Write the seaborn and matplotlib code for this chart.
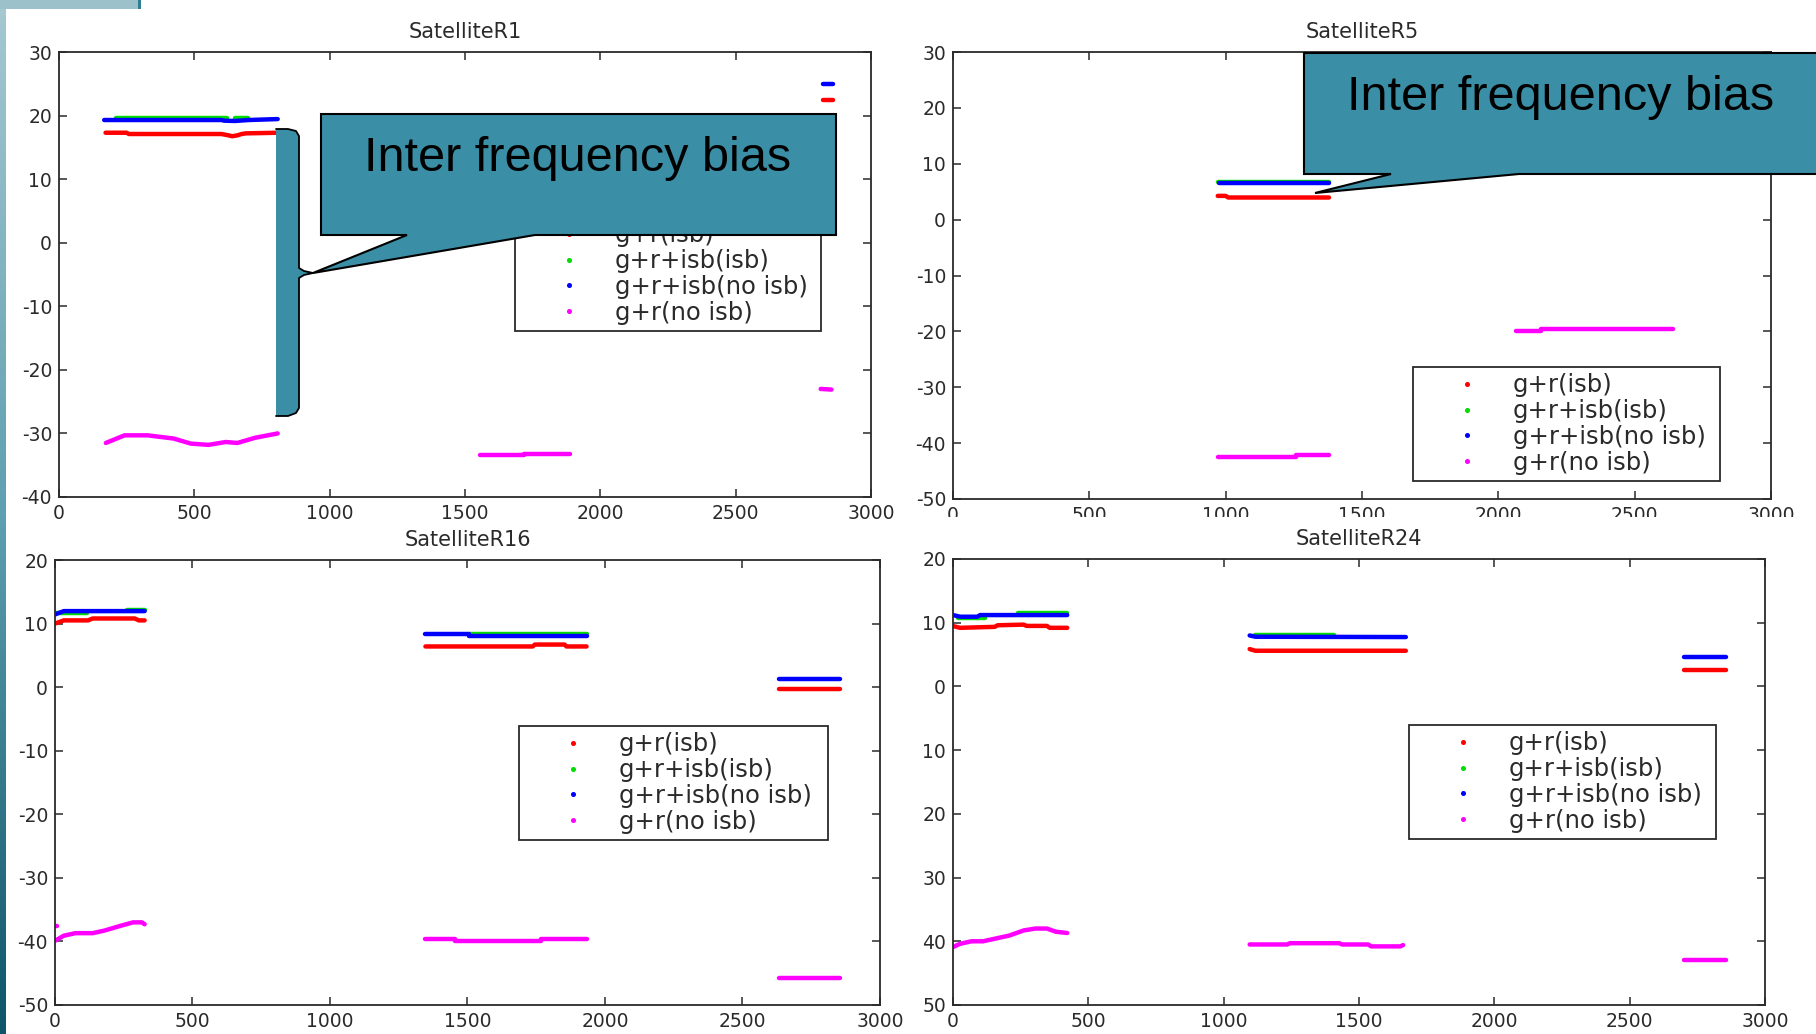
import numpy as np
import pandas as pd
import matplotlib
matplotlib.use("Agg")
import matplotlib.pyplot as plt
import seaborn as sns
from matplotlib.patches import Polygon, Rectangle
from matplotlib.lines import Line2D
from matplotlib.colors import LinearSegmentedColormap

nan = np.nan

# ---------------- data ----------------
SERIES = ["g+r(isb)", "g+r+isb(isb)", "g+r+isb(no isb)", "g+r(no isb)"]
COLORS = ["#ff0000", "#00dd00", "#0000ff", "#ff00ff"]
TITLES = ["SatelliteR1", "SatelliteR5", "SatelliteR16", "SatelliteR24"]
X_TICKS = [0, 500, 1000, 1500, 2000, 2500, 3000]
Y_TICKS_R1 = [-40, -30, -20, -10, 0, 10, 20, 30]
Y_TICKS_R5 = [-50, -40, -30, -20, -10, 0, 10, 20, 30]
Y_TICKS_R16 = [-50, -40, -30, -20, -10, 0, 10, 20]
Y_TICKS_R24 = [-50, -40, -30, -20, -10, 0, 10, 20]
Y_LABELS_R24 = ["50", "40", "30", "20", "10", "0", "10", "20"]

# Satellite R1
R1_red_x = [172, 250, 258, 600, 625, 640, 660, 675, 690, 810, nan, 2822, 2860]
R1_red_y = [17.3, 17.3, 17.1, 17.1, 16.9, 16.75, 16.9, 17.1, 17.2, 17.3, nan, 22.4, 22.4]
R1_green_x = [210, 620, nan, 650, 700]
R1_green_y = [19.6, 19.6, nan, 19.6, 19.6]
R1_blue_x = [167, 600, 610, 650, 700, 808, nan, 2822, 2860]
R1_blue_y = [19.3, 19.3, 19.2, 19.15, 19.3, 19.45, nan, 24.9, 24.9]
R1_mag_x = [173, 242, 327, 423, 487, 552, 616, 659, 723, 808, nan,
            1557, 1717, 1717, 1888, nan, 2814, 2854]
R1_mag_y = [-31.5, -30.3, -30.3, -30.8, -31.6, -31.8, -31.35, -31.5, -30.7, -30.0, nan,
            -33.45, -33.45, -33.2, -33.2, nan, -23.0, -23.1]

# Satellite R5
R5_red_x = [971, 1000, 1009, 1379]
R5_red_y = [4.25, 4.25, 3.96, 3.96]
R5_green_x = [971, 1379]
R5_green_y = [6.75, 6.75]
R5_blue_x = [975, 1379]
R5_blue_y = [6.64, 6.64]
R5_mag_x = [971, 1258, 1258, 1379, nan, 2065, 2156, 2156, 2639]
R5_mag_y = [-42.4, -42.4, -42.1, -42.1, nan, -19.94, -19.94, -19.64, -19.64]

# Satellite R16
R16_red_x = [0, 32, 120, 137, 290, 305, 326, nan, 1347, 1737, 1745, 1853, 1860, 1933, nan, 2632, 2853]
R16_red_y = [10.0, 10.5, 10.5, 10.8, 10.8, 10.5, 10.5, nan, 6.4, 6.4, 6.7, 6.7, 6.4, 6.4, nan, -0.33, -0.33]
R16_green_x = [0, 116, nan, 263, 326, nan, 1505, 1933]
R16_green_y = [11.6, 11.6, nan, 12.2, 12.2, nan, 8.3, 8.3]
R16_blue_x = [0, 32, 326, nan, 1347, 1505, 1505, 1933, nan, 2632, 2853]
R16_blue_y = [11.44, 11.96, 11.96, nan, 8.29, 8.29, 8.05, 8.05, nan, 1.3, 1.3]
R16_mag_x = [0, 8, nan, 0, 32, 74, 137, 179, 242, 284, 316, 326, nan,
             1347, 1453, 1453, 1768, 1768, 1933, nan, 2632, 2853]
R16_mag_y = [-37.6, -37.6, nan, -39.9, -39.1, -38.7, -38.7, -38.3, -37.5, -37.0, -37.0, -37.3, nan,
             -39.6, -39.6, -39.9, -39.9, -39.6, -39.6, nan, -45.76, -45.76]

# Satellite R24
R24_red_x = [0, 26, 154, 165, 261, 272, 347, 357, 422, nan, 1096, 1117, 1673, nan, 2701, 2857]
R24_red_y = [9.47, 9.2, 9.35, 9.6, 9.7, 9.5, 9.5, 9.2, 9.2, nan, 5.86, 5.6, 5.6, nan, 2.56, 2.56]
R24_green_x = [20, 120, nan, 240, 422, nan, 1117, 1406]
R24_green_y = [10.8, 10.8, nan, 11.46, 11.46, nan, 8.06, 8.06]
R24_blue_x = [0, 26, 90, 100, 422, nan, 1096, 1117, 1673, nan, 2701, 2857]
R24_blue_y = [11.2, 10.94, 10.94, 11.2, 11.2, nan, 8.0, 7.8, 7.75, nan, 4.65, 4.65]
R24_mag_x = [0, 26, 68, 111, 154, 208, 261, 304, 347, 380, 422, nan,
             1096, 1235, 1245, 1427, 1438, 1534, 1545, 1652, 1663, nan, 2701, 2857]
R24_mag_y = [-40.9, -40.4, -40.0, -40.0, -39.6, -39.1, -38.3, -38.0, -38.0, -38.5, -38.7, nan,
             -40.5, -40.5, -40.3, -40.3, -40.5, -40.5, -40.8, -40.8, -40.6, nan, -42.9, -42.9]

PANELS = [
    [(R1_red_x, R1_red_y), (R1_green_x, R1_green_y), (R1_blue_x, R1_blue_y), (R1_mag_x, R1_mag_y)],
    [(R5_red_x, R5_red_y), (R5_green_x, R5_green_y), (R5_blue_x, R5_blue_y), (R5_mag_x, R5_mag_y)],
    [(R16_red_x, R16_red_y), (R16_green_x, R16_green_y), (R16_blue_x, R16_blue_y), (R16_mag_x, R16_mag_y)],
    [(R24_red_x, R24_red_y), (R24_green_x, R24_green_y), (R24_blue_x, R24_blue_y), (R24_mag_x, R24_mag_y)],
]
YTICKS = [Y_TICKS_R1, Y_TICKS_R5, Y_TICKS_R16, Y_TICKS_R24]
YLIMS = [(-40, 30), (-50, 30), (-50, 20), (-50, 20)]


def build_frame(panel):
    rows = []
    for name, (xs, ys) in zip(SERIES, panel):
        seg = 0
        for x, y in zip(xs, ys):
            if np.isnan(x):
                seg += 1
                continue
            rows.append((name, f"{name}#{seg}", x, y))
    return pd.DataFrame(rows, columns=["series", "seg", "x", "y"])


# ---------------- figure ----------------
sns.set_style("ticks")
plt.rcParams["font.family"] = ["DejaVu Sans"]
plt.rcParams["axes.unicode_minus"] = False

W, H = 1816, 1034
fig = plt.figure(figsize=(W / 100, H / 100), dpi=100)
fig.patch.set_facecolor("white")


def fx(px):
    return px / W


def fy(py):
    return 1 - py / H


# axes boxes in pixels: left, top, right, bottom
BOXES = [(59, 52, 871, 497), (953, 52, 1771, 499), (55, 560, 880, 1005), (953, 559, 1765, 1005)]
# legend boxes in pixels: left, top, width
LEGEND_BOX = [(515, 217, 306), (1413, 367, 307), (519, 726, 309), (1409, 725, 307)]
palette = dict(zip(SERIES, COLORS))
INK = "#2a2a2a"

axes = []
for i, (l, t, r, b) in enumerate(BOXES):
    ax = fig.add_axes([fx(l), fy(b), (r - l) / W, (b - t) / H])
    axes.append(ax)
    df = build_frame(PANELS[i])
    sns.lineplot(data=df, x="x", y="y", hue="series", units="seg", estimator=None,
                 sort=False, hue_order=SERIES, palette=palette, linewidth=3.2,
                 legend=False, ax=ax, solid_capstyle="round")
    ax.set_xlim(0, 3000)
    ax.set_ylim(*YLIMS[i])
    ax.set_xticks(X_TICKS)
    ax.set_yticks(YTICKS[i])
    if i == 3:
        ax.set_yticklabels(Y_LABELS_R24)
    ax.set_xlabel("")
    ax.set_ylabel("")
    ax.set_title(TITLES[i], fontsize=15, color=INK, pad=10)
    for sp in ax.spines.values():
        sp.set_visible(True)
        sp.set_color(INK)
        sp.set_linewidth(1.3)
    ax.tick_params(direction="in", top=True, right=True, length=6, width=1.1,
                   color=INK, labelcolor=INK, labelsize=13.5, pad=5)
    handles = [Line2D([], [], marker="o", markersize=2.6, linestyle="none",
                      color=c) for c in COLORS]
    lx, ly, lw = LEGEND_BOX[i]
    leg = ax.legend(handles, SERIES, loc="upper left",
                    bbox_to_anchor=(fx(lx), fy(ly) - 0.2, lw / W, 0.2),
                    bbox_transform=fig.transFigure, mode="expand", borderaxespad=0,
                    frameon=True, fancybox=False, framealpha=1, edgecolor=INK,
                    prop={"family": "DejaVu Sans", "size": 17.5},
                    handlelength=3.95, handletextpad=-0.1, labelspacing=0.08,
                    borderpad=0.25)
    leg.get_frame().set_linewidth(1.3)
    for txt in leg.get_texts():
        txt.set_color(INK)

# lower images sit on top of the upper right image's tick labels
for ax in axes[2:]:
    ax.set_zorder(2)
fig.add_artist(Rectangle((0.5, 0), 0.5, fy(517), transform=fig.transFigure,
                         facecolor="white", edgecolor="none", zorder=1))

# slide decoration: left gradient strip and top-left bar
strip = fig.add_axes([0, 0, 6 / W, 1])
grad = np.linspace(0, 1, 256).reshape(-1, 1)
cmap = LinearSegmentedColormap.from_list("strip", ["#a6c8d1", "#5e9fb0", "#0e5568"])
strip.imshow(grad, aspect="auto", cmap=cmap, extent=(0, 1, 0, 1), origin="upper")
strip.set_axis_off()
strip.set_zorder(3)
fig.add_artist(Rectangle((0, fy(9)), fx(138), 9 / H, transform=fig.transFigure,
                         facecolor="#9dc1cb", edgecolor="none", zorder=4))
fig.add_artist(Rectangle((fx(138), fy(9)), 3 / W, 9 / H, transform=fig.transFigure,
                         facecolor="#2f7f91", edgecolor="none", zorder=4))

# ---------------- callouts ----------------
TEAL = "#3a8fa6"


def pix_poly(pts):
    return [(fx(x), fy(y)) for x, y in pts]


# bracket shape in panel R1
brace = [(276, 129), (288, 129), (296, 131), (299, 136), (299, 268), (304, 271), (313, 273),
         (304, 275), (299, 278), (299, 408), (296, 413), (288, 416), (276, 416)]
fig.add_artist(Polygon(pix_poly(brace), closed=True, transform=fig.transFigure,
                       facecolor=TEAL, edgecolor="none", zorder=5))
bx, by = zip(*pix_poly(brace))
fig.add_artist(Line2D(bx, by, transform=fig.transFigure, color="black", lw=1.3, zorder=5.5))

call1 = [(321, 114), (836, 114), (836, 235), (535, 235), (313, 273), (407, 235), (321, 235)]
fig.add_artist(Polygon(pix_poly(call1), closed=True, transform=fig.transFigure,
                       facecolor=TEAL, edgecolor="black", lw=1.5, zorder=6))
fig.text(fx(578), fy(171), "Inter frequency bias", fontsize=35, family="Liberation Sans",
         ha="center", va="baseline", color="black", zorder=7)

call2 = [(1304, 53), (1830, 53), (1830, 174), (1519, 174), (1315, 193), (1391, 174), (1304, 174)]
fig.add_artist(Polygon(pix_poly(call2), closed=True, transform=fig.transFigure,
                       facecolor=TEAL, edgecolor="black", lw=1.5, zorder=6))
fig.text(fx(1561), fy(110), "Inter frequency bias", fontsize=35, family="Liberation Sans",
         ha="center", va="baseline", color="black", zorder=7)

fig.savefig("out.png", dpi=100, facecolor="white")
